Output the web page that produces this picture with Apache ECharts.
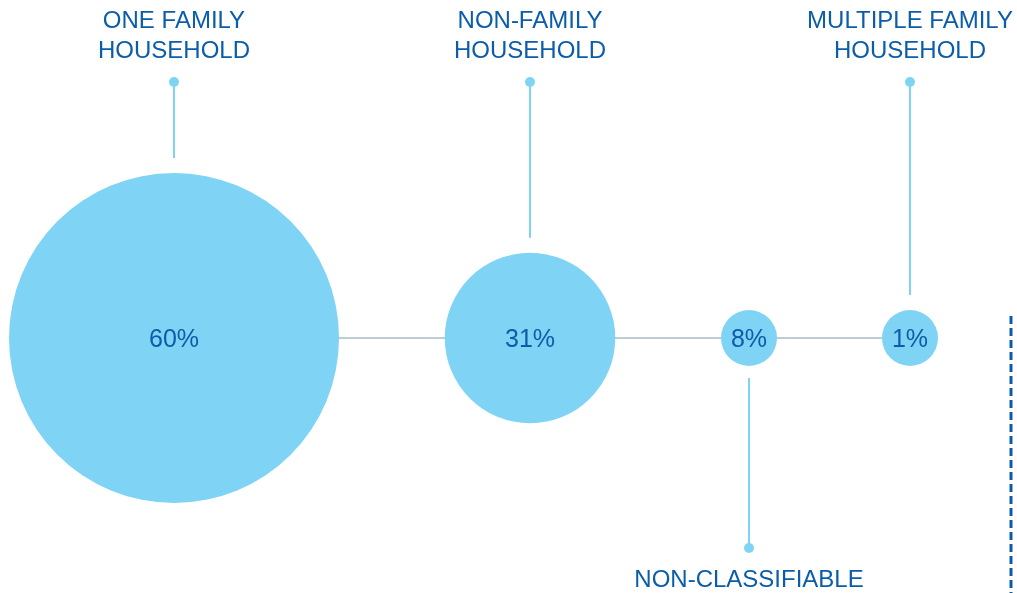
<!DOCTYPE html>
<html>
<head>
<meta charset="utf-8">
<script src="https://cdn.jsdelivr.net/npm/echarts@6/dist/echarts.min.js"></script>
<style>
  html, body { margin: 0; padding: 0; background: #fff; }
  #chart { width: 1017px; height: 593px; }
</style>
</head>
<body>
<div id="chart"></div>
<script>
// household types and their shares (%)
const categories = ['ONE FAMILY\nHOUSEHOLD', 'NON-FAMILY\nHOUSEHOLD', 'NON-CLASSIFIABLE', 'MULTIPLE FAMILY\nHOUSEHOLD'];
const shares = [60, 31, 8, 1];
// position of each bubble along the line
const positions = [174, 530, 749, 910];
// which side the label sits on: 1 = above, -1 = below
const labelSide = [1, 1, -1, 1];

const bubbleColor = '#7fd4f6';
const textColor = '#0b5daa';

// bubble diameter grows with the share, small ones keep a minimum size
function bubbleSize(v) {
  return Math.max(56, v * 5.5);
}

const points = shares.map((v, i) => [positions[i], 0, v, i]);

const chart = echarts.init(document.getElementById('chart'));

chart.setOption({
  animation: false,
  grid: {left: 0, right: 0, top: 238, height: 200},
  xAxis: {type: 'value', min: 0, max: 1017, show: false},
  yAxis: {type: 'value', min: -1, max: 1, show: false},
  series: [
    {
      // connecting line behind the bubbles
      type: 'line',
      data: points.map(p => [p[0], p[1]]),
      symbol: 'none',
      lineStyle: {color: '#a8bcc8', width: 1.5},
      z: 1
    },
    {
      type: 'scatter',
      data: points,
      symbolSize: function (val) {
        return bubbleSize(val[2]);
      },
      itemStyle: {color: bubbleColor, opacity: 1},
      label: {
        show: true,
        position: 'inside',
        offset: [0, 2],
        formatter: function (p) {
          return p.value[2] + '%';
        },
        color: textColor,
        fontSize: 25,
        fontFamily: '"Liberation Sans", Arial, sans-serif'
      },
      z: 3
    },
    {
      // leader lines, dots and category labels
      type: 'custom',
      data: points,
      z: 2,
      renderItem: function (params, api) {
        const i = api.value(3);
        const c = api.coord([api.value(0), api.value(1)]);
        const r = bubbleSize(api.value(2)) / 2;
        const side = labelSide[i];
        let y1, y2, dotY, textY;
        if (side === 1) {
          dotY = 82;
          y1 = dotY;
          y2 = c[1] - r - 15;
          textY = 36;
        } else {
          dotY = 548;
          y1 = c[1] + r + 12;
          y2 = dotY;
          textY = 580;
        }
        return {
          type: 'group',
          children: [
            {
              type: 'line',
              shape: {x1: c[0], y1: y1, x2: c[0], y2: y2},
              style: {stroke: bubbleColor, lineWidth: 2}
            },
            {
              type: 'circle',
              shape: {cx: c[0], cy: dotY, r: 5},
              style: {fill: bubbleColor}
            },
            {
              type: 'text',
              x: c[0],
              y: textY,
              style: {
                text: categories[i],
                fill: textColor,
                font: '24px "Liberation Sans", Arial, sans-serif',
                lineHeight: 30,
                align: 'center',
                verticalAlign: 'middle'
              }
            }
          ]
        };
      }
    }
  ],
  graphic: [
    {
      type: 'line',
      shape: {x1: 1011, y1: 316, x2: 1011, y2: 593},
      style: {stroke: '#0b5daa', lineWidth: 3, lineDash: [8, 4]}
    }
  ]
});
</script>
</body>
</html>
